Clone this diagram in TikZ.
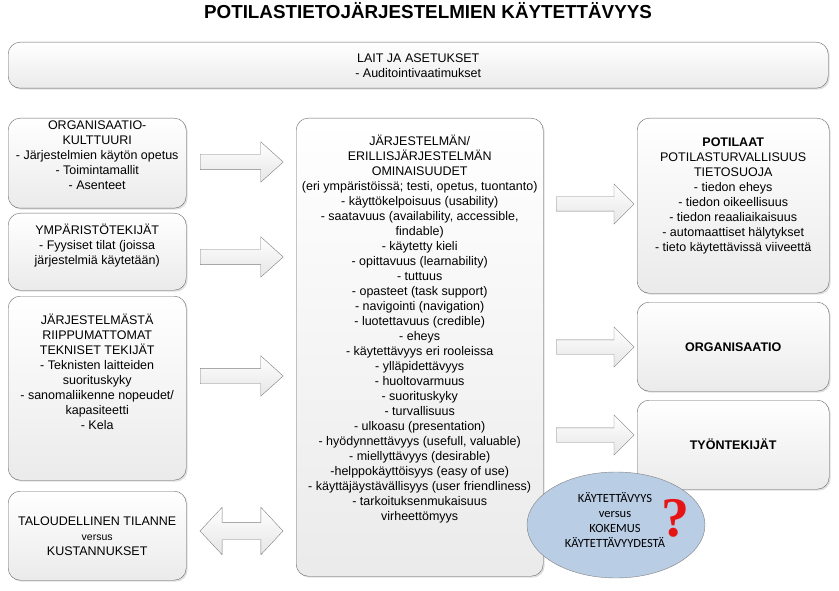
\documentclass[tikz,border=0pt]{standalone}
\usepackage{fontspec}
\setmainfont{Liberation Sans}
\newfontfamily\calfont{Carlito}
\newfontfamily\qfont{Liberation Serif}
\usetikzlibrary{positioning,shapes.geometric,shapes.arrows,shadows}
\definecolor{bubblefill}{RGB}{185,205,229}
\definecolor{qred}{RGB}{230,20,20}

\begin{document}
\begin{tikzpicture}[x=1pt,y=-1pt,box/.style={draw=black!60, rounded corners=12pt, top color=white, bottom color=black!8, drop shadow={shadow xshift=1.5pt, shadow yshift=-1.5pt, opacity=0.25}, inner sep=0pt, align=center, font=\fontsize{12.5}{15}\selectfont},txt/.style={inner sep=0pt, align=center, font=\fontsize{12.5}{15}\selectfont},fatarrow/.style={single arrow, draw=black!50, top color=white, bottom color=black!10, inner xsep=0pt, inner ysep=7.5pt, single arrow head extend=12.5pt, single arrow tip angle=84, anchor=tail},title/.style={inner sep=0pt, font=\fontsize{18.8}{22}\selectfont\bfseries}]
\useasboundingbox (0,0) rectangle (839,591);
\node[title] (title) at (428,11) {POTILASTIETOJÄRJESTELMIEN KÄYTETTÄVYYS};
\node[box, minimum width=820pt, minimum height=46pt, anchor=north west] (lait) at (8,42) {LAIT JA ASETUKSET\\- Auditointivaatimukset};
% left column
\node[box, minimum width=178pt, minimum height=90pt, anchor=north west] (org) at (8,118) {};
\node[txt, below=2.5pt of org.north] (orgtxt) {ORGANISAATIO-\\KULTTUURI\\- Järjestelmien käytön opetus\\- Toimintamallit\\- Asenteet};
\node[box, minimum width=178pt, minimum height=77pt, anchor=north west] (ymp) at (8,213) {};
\node[txt, below=11pt of ymp.north] (ymptxt) {YMPÄRISTÖTEKIJÄT\\- Fyysiset tilat (joissa\\järjestelmiä käytetään)};
\node[box, minimum width=178pt, minimum height=184pt, anchor=north west] (tek) at (8,296) {};
\node[txt, below=18pt of tek.north] (tektxt) {JÄRJESTELMÄSTÄ\\RIIPPUMATTOMAT\\TEKNISET TEKIJÄT\\- Teknisten laitteiden\\suorituskyky\\- sanomaliikenne nopeudet/\\kapasiteetti\\- Kela};
\node[box, minimum width=178pt, minimum height=89pt, anchor=north west] (talous) at (8,491) {TALOUDELLINEN TILANNE\\{\fontsize{10.5}{12}\selectfont versus}\\KUSTANNUKSET};
% centre
\node[box, minimum width=247pt, minimum height=458pt, anchor=north west] (jarj) at (296,118) {};
\node[txt, below=17pt of jarj.north] (jarjtxt) {JÄRJESTELMÄN/\\ERILLISJÄRJESTELMÄN\\OMINAISUUDET\\(eri ympäristöissä; testi, opetus, tuontanto)\\- käyttökelpoisuus (usability)\\- saatavuus (availability, accessible,\\findable)\\- käytetty kieli\\- opittavuus (learnability)\\- tuttuus\\- opasteet (task support)\\- navigointi (navigation)\\- luotettavuus (credible)\\- eheys\\- käytettävyys eri rooleissa\\- ylläpidettävyys\\- huoltovarmuus\\- suorituskyky\\- turvallisuus\\- ulkoasu (presentation)\\- hyödynnettävyys (usefull, valuable)\\- miellyttävyys (desirable)\\-helppokäyttöisyys (easy of use)\\- käyttäjäystävällisyys (user friendliness)\\- tarkoituksenmukaisuus\\virheettömyys};
% right column
\node[box, minimum width=192pt, minimum height=175pt, anchor=north west] (pot) at (637,118) {};
\node[txt, below=20pt of pot.north] (pottxt) {\textbf{POTILAAT}\\POTILASTURVALLISUUS\\TIETOSUOJA\\- tiedon eheys\\- tiedon oikeellisuus\\- tiedon reaaliaikaisuus\\- automaattiset hälytykset\\- tieto käytettävissä viiveettä};
\node[box, minimum width=192pt, minimum height=89pt, anchor=north west, font=\fontsize{12.5}{15}\selectfont\bfseries] (orgn) at (637,302) {ORGANISAATIO};
\node[box, minimum width=192pt, minimum height=89pt, anchor=north west, font=\fontsize{12.5}{15}\selectfont\bfseries] (tyo) at (637,400) {TYÖNTEKIJÄT};
% block arrows
\node[fatarrow, minimum height=83pt] (a1) at (200,162) {};
\node[fatarrow, minimum height=83pt] (a2) at (200,257) {};
\node[fatarrow, minimum height=83pt] (a3) at (200,376) {};
\node[double arrow, draw=black!50, top color=white, bottom color=black!10, inner xsep=0pt, inner ysep=8.5pt, double arrow head extend=15pt, double arrow tip angle=94, minimum height=83pt] (a4) at (241.5,531) {};
\node[fatarrow, minimum height=78pt, inner ysep=7pt, single arrow head extend=13pt, single arrow tip angle=90] (b1) at (556,204) {};
\node[fatarrow, minimum height=78pt, inner ysep=7pt, single arrow head extend=13pt, single arrow tip angle=90] (b2) at (556,347) {};
\node[fatarrow, minimum height=78pt, inner ysep=7pt, single arrow head extend=13pt, single arrow tip angle=90] (b3) at (556,435) {};
% bubble
\node[ellipse, draw=black!50, fill=bubblefill, minimum width=178pt, minimum height=106pt, inner sep=0pt] (bubble) at (616,525) {};
\node[txt, font=\calfont\fontsize{12.5}{15}\selectfont] (bubbletxt) at (615,520) {KÄYTETTÄVYYS\\versus\\KOKEMUS\\KÄYTETTÄVYYDESTÄ};
\node[inner sep=0pt, text=qred, font=\qfont\bfseries\fontsize{56}{56}\selectfont] (qmark) at (675,518) {?};
\end{tikzpicture}
\end{document}
